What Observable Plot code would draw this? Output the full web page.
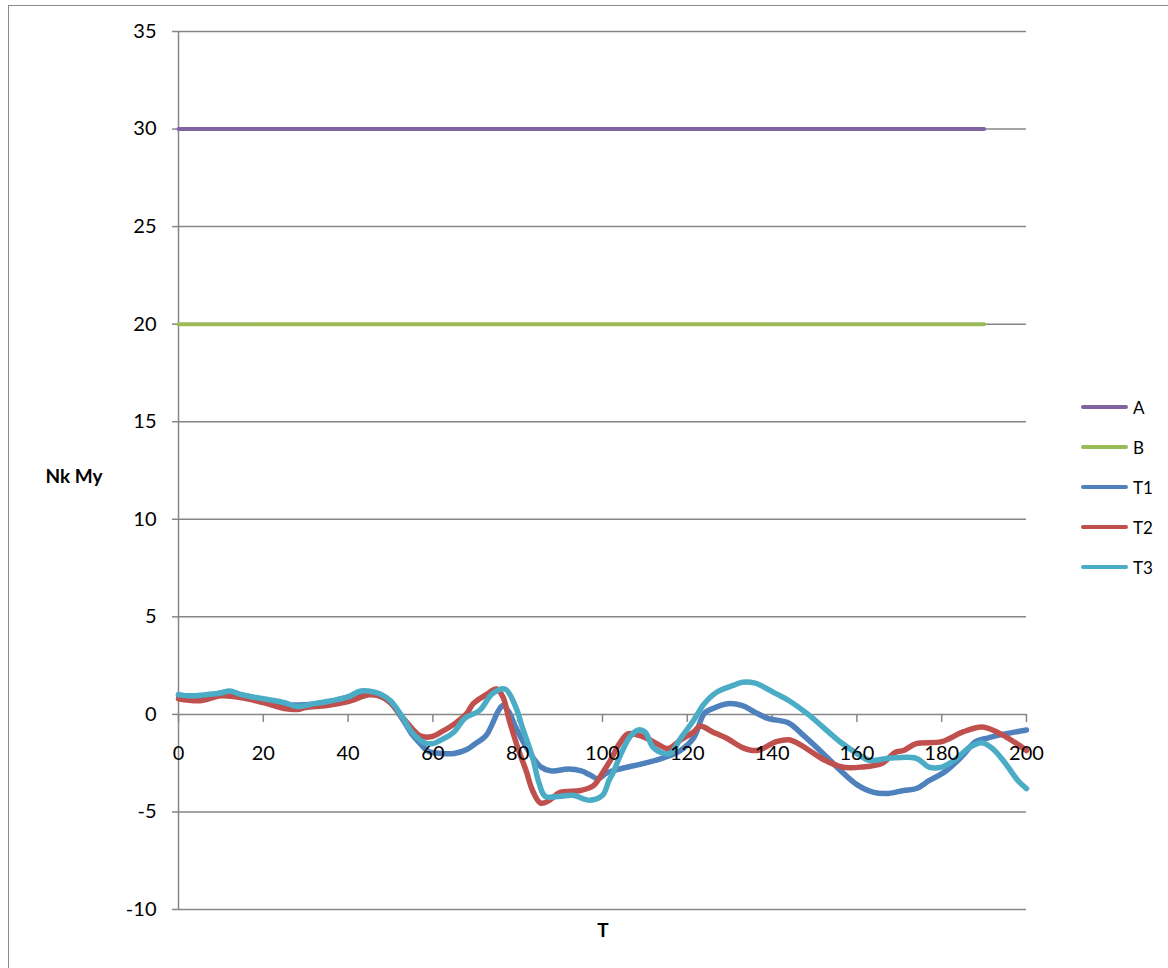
<!DOCTYPE html>
<html>
<head>
<meta charset="utf-8">
<script src="https://cdn.jsdelivr.net/npm/d3@7"></script>
<script src="https://cdn.jsdelivr.net/npm/@observablehq/plot@0.6"></script>
<style>
  html, body { margin: 0; padding: 0; background: #fff; overflow: hidden; }
  #wrap { position: relative; width: 1168px; height: 968px; font-family: Lato, "Open Sans", sans-serif; }
  #frame { position: absolute; left: 8px; top: 5px; width: 1300px; height: 1100px; border: 1.5px solid #8a8a8a; box-sizing: border-box; }
  #chart { position: absolute; left: 0; top: 0; }
  .title { position: absolute; font-weight: bold; font-size: 19px; color: #000; transform: translate(-50%, -50%); white-space: nowrap; }
  #legend { position: absolute; left: 1081px; top: 387px; font-size: 17px; color: #000; }
  .li { display: flex; align-items: center; height: 40px; }
  .sw { width: 47px; height: 3.5px; border-radius: 2px; margin-right: 5px; }
</style>
</head>
<body>
<div id="wrap">
  <div id="frame"></div>
  <div id="chart"></div>
  <div class="title" style="left:74px; top:475px;">Nk My</div>
  <div class="title" style="left:603px; top:929px;">T</div>
  <div id="legend"></div>
</div>
<script>
// ---- data ----
const seriesNames = ["A", "B", "T1", "T2", "T3"];
const seriesColors = ["#8064A2", "#9BBB59", "#4F81BD", "#C0504D", "#4BACC6"];

const yTicks = [-10, -5, 0, 5, 10, 15, 20, 25, 30, 35];
const xTicks = [0, 20, 40, 60, 80, 100, 120, 140, 160, 180, 200];

const tA = [0, 190];
const vA = [30, 30];
const tB = [0, 190];
const vB = [20, 20];

const tT1 = [0, 5, 10, 12, 15, 20, 25, 30, 35, 40, 44, 47, 50, 53, 55, 57, 59, 62, 65, 68, 70, 72.5, 75.5, 76.5, 78, 79.5, 82.5, 85.5, 88, 92, 95, 97, 99, 101, 104, 110, 114, 118, 121.5, 124, 126, 129.5, 133, 136, 139, 144, 147, 152, 156, 160, 164, 167.5, 171, 174, 177, 181, 185, 188, 191, 195, 200];
const vT1 = [1.0, 0.9, 1.1, 1.15, 1.0, 0.75, 0.5, 0.5, 0.6, 0.9, 1.15, 1.0, 0.6, -0.3, -1.0, -1.5, -1.9, -2.0, -2.0, -1.8, -1.5, -1.1, 0.2, 0.45, 0.1, -0.65, -1.85, -2.7, -2.9, -2.8, -2.9, -3.1, -3.3, -3.0, -2.8, -2.5, -2.25, -1.9, -1.2, 0.05, 0.3, 0.55, 0.45, 0.1, -0.2, -0.45, -1.0, -2.0, -2.85, -3.6, -4.0, -4.05, -3.9, -3.8, -3.4, -2.9, -2.1, -1.4, -1.2, -1.0, -0.8];

const tT2 = [0, 5, 10, 15, 20, 25, 28, 30, 35, 40, 45, 48, 50, 53, 55, 57, 59.5, 62, 65, 68, 69.5, 72.5, 75, 76.5, 78, 80, 82, 83.5, 85.4, 87.5, 90, 94.8, 97.9, 100, 102, 104, 106, 109, 112, 115.5, 118.5, 121.5, 123, 126, 129.5, 133, 136.5, 141, 144, 147, 152, 156.5, 161, 166, 169, 171, 174, 180, 185, 189.5, 193, 197, 200];
const vT2 = [0.8, 0.7, 0.95, 0.85, 0.6, 0.3, 0.25, 0.35, 0.45, 0.65, 1.0, 0.9, 0.6, -0.2, -0.7, -1.1, -1.15, -0.9, -0.5, 0.05, 0.55, 1.0, 1.3, 0.9, -0.3, -1.7, -2.9, -3.9, -4.55, -4.4, -4.0, -3.9, -3.65, -3.0, -2.3, -1.5, -1.0, -1.1, -1.4, -1.75, -1.3, -0.9, -0.6, -0.9, -1.25, -1.7, -1.85, -1.4, -1.3, -1.6, -2.3, -2.7, -2.7, -2.5, -1.95, -1.85, -1.5, -1.4, -0.9, -0.65, -0.9, -1.4, -1.85];

const tT3 = [0, 3, 6, 10, 12, 15, 20, 25, 28, 32, 36, 40, 43, 46, 48, 50, 53, 55, 58, 60, 62, 65, 67.5, 71, 74, 77, 79.5, 81, 83.5, 85, 86.5, 90, 93, 97, 100, 101.5, 102.5, 104, 106.5, 108.5, 110, 112, 114.5, 116, 118.5, 121.5, 124, 127, 131, 133, 136, 141, 144, 148.5, 152, 156, 160, 163, 167.5, 174, 177, 180, 183, 186.5, 189.5, 192, 195, 198, 200];
const vT3 = [1.0, 0.95, 1.0, 1.1, 1.2, 1.0, 0.8, 0.6, 0.4, 0.55, 0.7, 0.9, 1.2, 1.15, 1.0, 0.7, -0.2, -0.9, -1.45, -1.5, -1.3, -0.9, -0.2, 0.2, 1.05, 1.3, 0.4, -0.6, -2.2, -3.5, -4.2, -4.2, -4.15, -4.4, -4.15, -3.4, -3.0, -2.2, -1.15, -0.8, -0.9, -1.7, -2.0, -2.0, -1.2, -0.3, 0.55, 1.15, 1.5, 1.65, 1.6, 1.05, 0.7, 0.0, -0.65, -1.4, -2.0, -2.35, -2.25, -2.25, -2.7, -2.7, -2.35, -1.7, -1.45, -1.75, -2.5, -3.4, -3.8];

// ---- build table ----
const seriesT = [tA, tB, tT1, tT2, tT3];
const seriesV = [vA, vB, vT1, vT2, vT3];
const rows = [];
seriesNames.forEach((name, k) => {
  seriesT[k].forEach((t, i) => rows.push({series: name, t, v: seriesV[k][i]}));
});

const grid = "#868686";
const lineMarks = seriesNames.map((name, k) =>
  Plot.line(rows.filter(r => r.series === name), {
    x: "t", y: "v",
    stroke: seriesColors[k],
    strokeWidth: k < 2 ? 4 : 5.5,
    strokeLinejoin: "round",
    strokeLinecap: "round",
    curve: k < 2 ? "linear" : "catmull-rom"
  })
);

const chart = Plot.plot({
  width: 1168,
  height: 968,
  marginLeft: 178,
  marginRight: 142,
  marginTop: 31,
  marginBottom: 59,
  x: {domain: [0, 200], axis: null},
  y: {domain: [-10, 35], axis: null},
  style: {fontFamily: "Lato, 'Open Sans', sans-serif", fontSize: "20px", color: "#000", background: "transparent"},
  marks: [
    Plot.ruleY(yTicks, {stroke: grid, strokeWidth: 1.5}),
    Plot.ruleX([0], {stroke: grid, strokeWidth: 1.5}),
    Plot.axisY({ticks: yTicks, tickSize: 6, tickPadding: 16, label: null, stroke: grid, strokeWidth: 1.5, fill: "#000", fontSize: 20, tickFormat: d => String(d)}),
    Plot.ruleX(xTicks, {x: d => d, y1: 0, y2: 0, insetBottom: -8, stroke: grid, strokeWidth: 1.5}),
    ...lineMarks,
    Plot.text(xTicks, {x: d => d, y: 0, dy: 39, text: d => String(d), fontSize: 20, fill: "#000"})
  ]
});
document.getElementById("chart").appendChild(chart);

// ---- legend ----
const legend = document.getElementById("legend");
seriesNames.forEach((name, k) => {
  const item = document.createElement("div");
  item.className = "li";
  const sw = document.createElement("div");
  sw.className = "sw";
  sw.style.background = seriesColors[k];
  const lab = document.createElement("span");
  lab.textContent = name;
  item.appendChild(sw);
  item.appendChild(lab);
  legend.appendChild(item);
});
</script>
</body>
</html>
